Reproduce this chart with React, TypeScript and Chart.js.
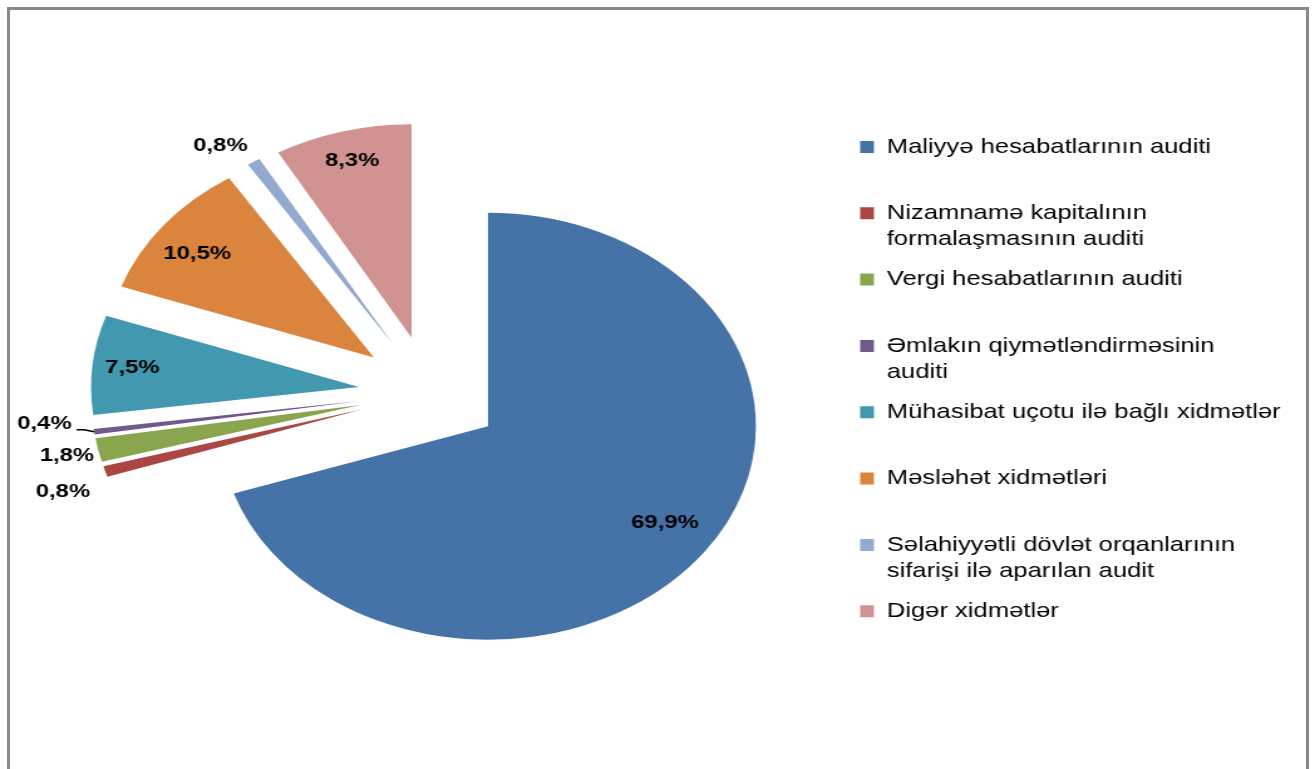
import React, { useEffect, useRef } from 'react';
import { Chart, registerables } from 'chart.js';

Chart.register(...registerables);

// ---- data ----
const categories: string[] = [
  'Maliyyə hesabatlarının auditi',
  'Nizamnamə kapitalının\nformalaşmasının auditi',
  'Vergi hesabatlarının auditi',
  'Əmlakın qiymətləndirməsinin\nauditi',
  'Mühasibat uçotu ilə bağlı xidmətlər',
  'Məsləhət xidmətləri',
  'Səlahiyyətli dövlət orqanlarının\nsifarişi ilə aparılan audit',
  'Digər xidmətlər',
];
const shares: number[] = [69.9, 0.8, 1.8, 0.4, 7.5, 10.5, 0.8, 8.3];
const sliceColors: string[] = [
  '#4572A7', '#AA4643', '#89A54E', '#71588F',
  '#4198AF', '#DB843D', '#93A9CF', '#D19392',
];

// ---- layout / style ----
const CANVAS_W = 1048;
const CANVAS_H = 769;
const STRETCH = 1315 / CANVAS_W;
const RADIUS = 213.5;
const EXPLODE = 57;
const labelRadius = [0.8, 1.18, 1.12, 1.18, 0.85, 0.82, 1.13, 0.86];
const labelShiftDeg = [-1.5, -2.2, 0, 3.1, 0, -1.9, -3.4, 0];
const leaderLine = [false, false, false, true, false, false, false, false];
const FONT = '"Liberation Sans", Arial, sans-serif';
const LEGEND_SIZE = 20.4;
const LEGEND_PAD = 13.7;
const LEGEND_BOX_W = 11;
const LEGEND_LEFT = 671.8;
const PAD_LEFT = 13.6;

const explodePlugin = {
  id: 'explodeSlices',
  afterDatasetUpdate(_chart: any, args: any) {
    const meta = args.meta;
    meta.data.forEach((el: any) => {
      const mid = (el.startAngle + el.endAngle) / 2;
      el.x += Math.cos(mid) * EXPLODE;
      el.y += Math.sin(mid) * EXPLODE;
    });
  },
};

const sliceLabelPlugin = {
  id: 'sliceLabels',
  afterDatasetsDraw(chart: any) {
    const ctx = chart.ctx as CanvasRenderingContext2D;
    const meta = chart.getDatasetMeta(0);
    const values = chart.data.datasets[0].data as number[];
    ctx.save();
    ctx.font = `bold 19px ${FONT}`;
    ctx.fillStyle = '#000';
    ctx.strokeStyle = '#000';
    ctx.textAlign = 'center';
    ctx.textBaseline = 'middle';
    meta.data.forEach((el: any, i: number) => {
      const bis = (el.startAngle + el.endAngle) / 2;
      const ang = bis + (labelShiftDeg[i] * Math.PI) / 180;
      const r = el.outerRadius * labelRadius[i];
      const x = el.x + Math.cos(ang) * r;
      const y = el.y + Math.sin(ang) * r;
      const text = values[i].toFixed(1).replace('.', ',') + '%';
      ctx.fillText(text, x, y);
      if (leaderLine[i]) {
        const w = ctx.measureText(text).width;
        const ex = el.x + Math.cos(bis) * el.outerRadius;
        const ey = el.y + Math.sin(bis) * el.outerRadius;
        ctx.beginPath();
        ctx.lineWidth = 1.5;
        ctx.moveTo(x + w / 2 + 4, y + 6);
        ctx.lineTo(x + w / 2 + 10, y + 6);
        ctx.lineTo(ex, ey);
        ctx.stroke();
      }
    });
    ctx.restore();
  },
};

function legendText(i: number): string | string[] {
  const lines = String(categories[i]).split('\n');
  if (i === categories.length - 1) return lines[0];
  return lines.length > 1 ? lines : [lines[0], ''];
}

export default function App() {
  const canvasRef = useRef<HTMLCanvasElement | null>(null);

  useEffect(() => {
    if (!canvasRef.current) return;

    // measure legend width the way Chart.js does, so the legend box is not clipped
    const mctx = document.createElement('canvas').getContext('2d') as CanvasRenderingContext2D;
    mctx.font = `${LEGEND_SIZE}px ${FONT}`;
    let colWidth = 0;
    categories.forEach((_c, i) => {
      const t = legendText(i);
      const longest = typeof t === 'string' ? t : t.reduce((a, b) => (a.length > b.length ? a : b));
      const w = LEGEND_BOX_W + LEGEND_SIZE / 2 + mctx.measureText(longest).width;
      colWidth = Math.max(colWidth, w);
    });
    const legendWidth = LEGEND_PAD + colWidth + 10;
    const padRight = Math.max(CANVAS_W - LEGEND_LEFT - legendWidth, 0);

    const chart = new Chart(canvasRef.current, {
      type: 'pie',
      data: {
        labels: categories,
        datasets: [
          {
            data: shares,
            backgroundColor: sliceColors,
            borderWidth: 0,
            radius: RADIUS,
          } as any,
        ],
      },
      options: {
        responsive: false,
        animation: false,
        devicePixelRatio: 1,
        rotation: 0,
        layout: { padding: { left: PAD_LEFT, right: padRight, top: 123, bottom: 106.4 } },
        plugins: {
          tooltip: { enabled: false },
          legend: {
            position: 'right',
            align: 'start',
            labels: {
              boxWidth: LEGEND_BOX_W,
              boxHeight: 12,
              padding: LEGEND_PAD,
              color: '#000',
              font: { family: FONT, size: LEGEND_SIZE, lineHeight: 1.29 },
              generateLabels(ch: any) {
                const base = (Chart as any).overrides.pie.plugins.legend.labels.generateLabels(ch);
                return base.map((item: any, i: number) => ({ ...item, text: legendText(i), lineWidth: 0 }));
              },
            },
          },
        },
      } as any,
      plugins: [explodePlugin, sliceLabelPlugin],
    });
    return () => chart.destroy();
  }, []);

  return (
    <div
      style={{
        position: 'fixed',
        left: 0,
        top: 0,
        width: 1315,
        height: 769,
        overflow: 'hidden',
        background: '#fff',
      }}
    >
      <div
        style={{
          position: 'absolute',
          left: 7,
          top: 7,
          width: 1302,
          height: 790,
          border: '3px solid #878787',
          boxSizing: 'border-box',
        }}
      />
      <canvas
        ref={canvasRef}
        width={CANVAS_W}
        height={CANVAS_H}
        style={{
          position: 'absolute',
          left: 0,
          top: 0,
          width: CANVAS_W,
          height: CANVAS_H,
          transform: `scaleX(${STRETCH})`,
          transformOrigin: '0 0',
        }}
      />
    </div>
  );
}
